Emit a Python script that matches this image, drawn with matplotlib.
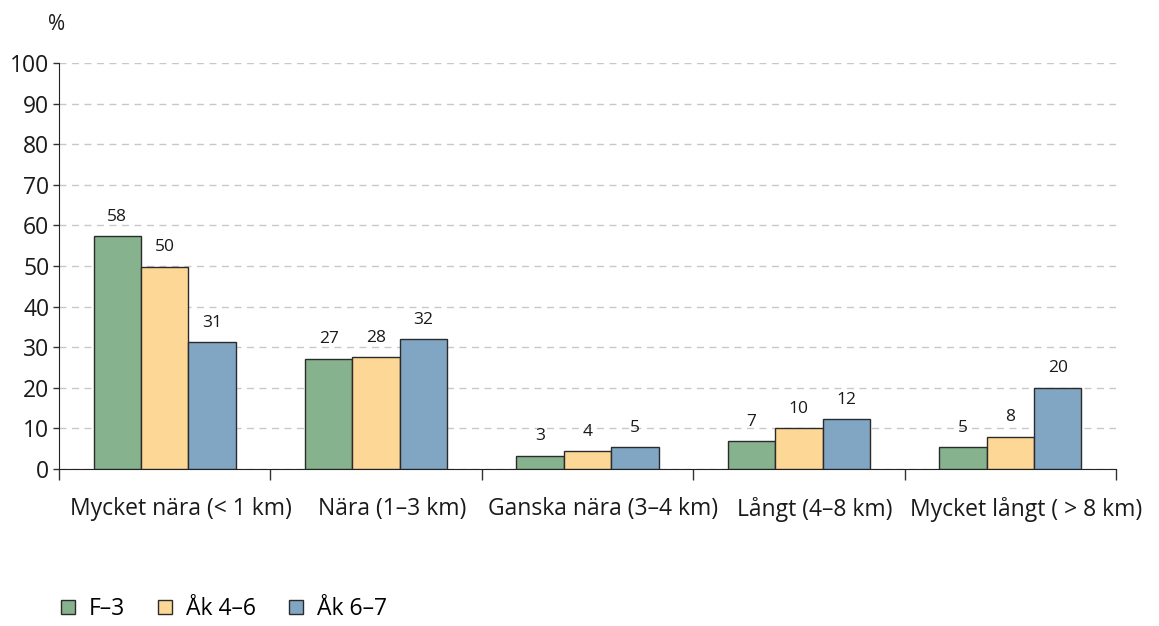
import matplotlib
matplotlib.use("Agg")
import matplotlib.pyplot as plt
import matplotlib.transforms as mtransforms
import numpy as np

categories = ["Mycket nära (< 1 km)", "Nära (1–3 km)", "Ganska nära (3–4 km)",
              "Långt (4–8 km)", "Mycket långt ( > 8 km)"]
series_names = ["F–3", "Åk 4–6", "Åk 6–7"]
f3 = [57.3, 27.2, 3.3, 6.9, 5.4]
ak46 = [49.8, 27.6, 4.4, 10.0, 8.0]
ak67 = [31.3, 31.9, 5.4, 12.2, 20.0]
f3_labels = ["58", "27", "3", "7", "5"]
ak46_labels = ["50", "28", "4", "10", "8"]
ak67_labels = ["31", "32", "5", "12", "20"]
yticks = [0, 10, 20, 30, 40, 50, 60, 70, 80, 90, 100]
colors = ["#86B28E", "#FDD795", "#81A6C4"]

plt.rcParams['font.family'] = ['Open Sans', 'DejaVu Sans']

fig = plt.figure(figsize=(11.59, 6.26), dpi=100)
ax = fig.add_axes([59/1159, 1-469/626, (1116-59)/1159, (469-63)/626])

x = np.arange(len(categories))
w = 0.224
handles = []
for i, (vals, labs) in enumerate([(f3, f3_labels), (ak46, ak46_labels), (ak67, ak67_labels)]):
    pos = x + (i - 1) * w
    b = ax.bar(pos, vals, width=w, color=colors[i], edgecolor="#2b2b2b", linewidth=1.0,
               label=series_names[i], zorder=3)
    handles.append(b)
    for p, v, l in zip(pos, vals, labs):
        ax.text(p, v + 2.8, l, ha="center", va="bottom", fontsize=12.5, color="#1a1a1a")

ax.set_xlim(-0.5, len(categories) - 0.5)
ax.set_ylim(0, 100)
ax.set_yticks(yticks)
ax.set_yticklabels([str(t) for t in yticks], fontsize=16.5, color="#1a1a1a")
ax.yaxis.grid(True, linestyle=(0, (5, 4)), color="#C8C8C8", linewidth=1.0, zorder=0)
ax.set_axisbelow(True)

ax.set_xticks(np.arange(len(categories) + 1) - 0.5)
ax.set_xticklabels([])
ax.set_xticks(x, minor=True)
ax.set_xticklabels(categories, minor=True, fontsize=16.5, color="#1a1a1a")
ax.tick_params(axis="x", which="major", direction="out", length=8, width=1.0, color="#333333")
ax.tick_params(axis="x", which="minor", length=0, pad=20)
ax.tick_params(axis="y", direction="out", length=4, width=1.0, color="#333333", pad=3)

offset = mtransforms.ScaledTranslation(0.16, 0, fig.dpi_scale_trans)
for lab in ax.xaxis.get_minorticklabels():
    lab.set_transform(lab.get_transform() + offset)

for s in ["top", "right"]:
    ax.spines[s].set_visible(False)
ax.spines["left"].set_color("#222222")
ax.spines["bottom"].set_color("#222222")

fig.text(57/1159, 1-25/626, "%", fontsize=15, ha="center", va="center", color="#1a1a1a")

fig.legend(handles=handles, labels=series_names, loc="center left",
           bbox_to_anchor=(0.053, 1-609/626), ncol=3, frameon=False, fontsize=16.5,
           handlelength=0.6, handleheight=0.6, handletextpad=0.6, columnspacing=1.45,
           borderpad=0, borderaxespad=0)

fig.savefig("out.png", dpi=100)
